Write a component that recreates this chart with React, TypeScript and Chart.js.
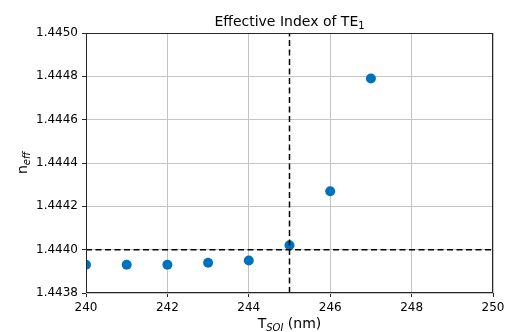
import React, { useEffect, useRef } from "react";
import { Chart, registerables } from "chart.js";

Chart.register(...registerables);

const thickness = [240, 241, 242, 243, 244, 245, 246, 247];
const neff = [1.44393, 1.44393, 1.44393, 1.44394, 1.44395, 1.44402, 1.44427, 1.44479];
const refThickness = 245;
const refIndex = 1.444;
const xRange = [240, 250];
const yRange = [1.4438, 1.445];

const FONT = "'DejaVu Sans', sans-serif";

const framePlugin = {
  id: "frameAndLabels",
  afterDraw(chart: any) {
    const { ctx, chartArea } = chart;
    const { left, right, top, bottom } = chartArea;
    ctx.save();
    ctx.strokeStyle = "#262626";
    ctx.lineWidth = 1;
    ctx.strokeRect(left + 0.5, top + 0.5, right - left - 1, bottom - top - 1);

    ctx.fillStyle = "#000";
    ctx.textBaseline = "alphabetic";
    ctx.textAlign = "left";
    const big = `14px ${FONT}`;
    const sub = `10px ${FONT}`;
    const subI = `italic 10px ${FONT}`;
    // title
    const cx = (left + right) / 2;
    const t1 = "Effective Index of TE";
    ctx.font = big;
    const w1 = ctx.measureText(t1).width;
    ctx.font = sub;
    const w2 = ctx.measureText("1").width;
    const sx = cx - (w1 + w2) / 2;
    ctx.font = big;
    ctx.fillText(t1, sx, 26);
    ctx.font = sub;
    ctx.fillText("1", sx + w1, 29);

    // x title
    ctx.font = big;
    const a = "T";
    const c = " (nm)";
    const wa = ctx.measureText(a).width;
    const wc = ctx.measureText(c).width;
    ctx.font = subI;
    const b = "SOI";
    const wb = ctx.measureText(b).width;
    const x0 = cx - (wa + wb + wc) / 2;
    const ybase = 328;
    ctx.font = big;
    ctx.fillText(a, x0, ybase);
    ctx.font = subI;
    ctx.fillText(b, x0 + wa, ybase + 3);
    ctx.font = big;
    ctx.fillText(c, x0 + wa + wb, ybase);

    // y title
    const cy = (top + bottom) / 2;
    ctx.translate(27, cy);
    ctx.rotate(-Math.PI / 2);
    ctx.font = big;
    const n = "n";
    const wn = ctx.measureText(n).width;
    ctx.font = subI;
    const e = "eff";
    const we = ctx.measureText(e).width;
    const y0 = -(wn + we) / 2;
    ctx.font = big;
    ctx.fillText(n, y0, 0);
    ctx.font = subI;
    ctx.fillText(e, y0 + wn, 3);
    ctx.restore();
  },
};

export default function App() {
  const ref = useRef<HTMLCanvasElement>(null);
  useEffect(() => {
    if (!ref.current) return;
    const chart = new Chart(ref.current, {
      type: "scatter",
      data: {
        datasets: [
          {
            type: "line",
            data: [
              { x: xRange[0], y: refIndex },
              { x: xRange[1], y: refIndex },
            ],
            borderColor: "#000",
            borderWidth: 1.5,
            borderDash: [6, 3.5],
            pointRadius: 0,
            clip: 0,
          } as any,
          {
            type: "line",
            data: [
              { x: refThickness, y: yRange[0] },
              { x: refThickness, y: yRange[1] },
            ],
            borderColor: "#000",
            borderWidth: 1.5,
            borderDash: [6, 3.5],
            pointRadius: 0,
            clip: 0,
          } as any,
          {
            data: thickness.map((t, i) => ({ x: t, y: neff[i] })),
            backgroundColor: "#0072BD",
            borderColor: "#0072BD",
            pointRadius: 5,
            borderWidth: 0,
            clip: 0,
          },
        ],
      },
      options: {
        animation: false,
        responsive: false,
        events: [],
        layout: { padding: { top: 33, right: 12, left: 0, bottom: 0 } },
        plugins: {
          legend: { display: false },
          tooltip: { enabled: false },
          title: { display: false },
        },
        scales: {
          x: {
            type: "linear",
            min: xRange[0],
            max: xRange[1],
            ticks: {
              stepSize: 2,
              color: "#000",
              font: { family: FONT, size: 12 },
              padding: 4,
              maxRotation: 0,
            },
            grid: {
              color: "#c4c4c4",
              tickColor: "#262626",
              tickLength: 4,
              lineWidth: 1,
            },
            border: { display: false },
            afterFit: (s: any) => {
              s.height = 39;
              s.paddingLeft = 0;
              s.paddingRight = 0;
            },
          },
          y: {
            type: "linear",
            min: yRange[0],
            max: yRange[1],
            ticks: {
              stepSize: 0.0002,
              color: "#000",
              font: { family: FONT, size: 12 },
              padding: 4,
              callback: (v: any) => Number(v).toFixed(4),
            },
            grid: {
              color: "#c4c4c4",
              tickColor: "#262626",
              tickLength: 4,
              lineWidth: 1,
            },
            border: { display: false },
            afterFit: (s: any) => {
              s.width = 86;
              s.paddingTop = 0;
              s.paddingBottom = 0;
            },
          },
        },
      },
      plugins: [framePlugin],
    });
    return () => chart.destroy();
  }, []);
  return (
    <div style={{ position: "absolute", left: 0, top: 0, width: 505, height: 332, background: "#fff" }}>
      <canvas ref={ref} width={505} height={332} />
    </div>
  );
}
